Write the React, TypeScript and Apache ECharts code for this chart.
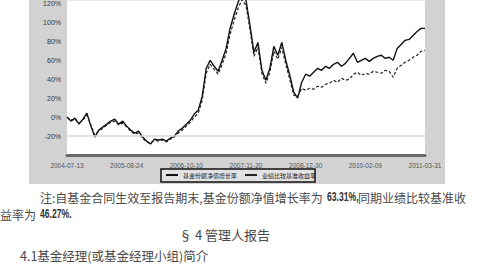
import React, { useEffect, useRef } from "react";
import * as echarts from "echarts";

// x-axis tick labels (7 evenly spaced ticks across the period)
const tickLabels = ["2004-07-13", "2005-08-24", "2006-10-10", "2007-11-20", "2008-12-30", "2010-02-09", "2011-03-31"];

// y-axis tick values (%)
const yTicks = [-20, 0, 20, 40, 60, 80, 100, 120];

// 基金份额净值增长率 (%)
const fundValues = [
  0, -4.2, -1.1, -7.4, -2.1, 4.2, -9.5, -21.1, -13.7, -10.5,
  -7.4, -4.2, -2.1, -7.4, -4.2, -9.5, -13.7, -16.8, -14.7, -21.1,
  -25.3, -28.4, -23.2, -24.2, -23.2, -25.3, -22.1, -20.0, -14.7, -11.6,
  -7.4, -3.2, 3.2, 7.4, 22.1, 51.6, 60.0, 53.7, 48.4, 60.0,
  72.6, 93.7, 108.4, 121.1, 131.6, 123.2, 96.8, 68.4, 78.9, 49.5,
  38.9, 51.6, 74.7, 65.3, 78.9, 60.0, 44.2, 26.3, 20.0, 36.8,
  45.3, 43.2, 47.4, 51.6, 49.5, 53.7, 51.6, 55.8, 57.9, 53.7,
  56.8, 62.1, 67.4, 57.9, 60.0, 62.1, 58.9, 62.1, 64.2, 65.3,
  62.1, 63.2, 60.0, 72.6, 76.8, 81.1, 82.1, 86.3, 90.5, 93.7,
  93.7,
];

// 业绩比较基准收益率 (%)
const benchValues = [
  0, -3.2, -2.1, -6.3, -3.2, 2.1, -8.4, -18.9, -14.7, -11.6,
  -8.4, -5.3, -4.2, -8.4, -6.3, -10.5, -14.7, -17.9, -16.8, -22.1,
  -26.3, -27.4, -24.2, -25.3, -24.2, -26.3, -23.2, -21.1, -16.8, -13.7,
  -9.5, -5.3, 0, 4.2, 17.9, 46.3, 55.8, 50.5, 45.3, 55.8,
  67.4, 87.4, 102.1, 114.7, 124.2, 117.9, 92.6, 64.2, 73.7, 46.3,
  35.8, 47.4, 69.5, 61.1, 73.7, 55.8, 40.0, 23.2, 22.1, 30.5,
  28.4, 30.5, 29.5, 32.6, 31.6, 34.7, 35.8, 38.9, 36.8, 41.1,
  38.9, 40.0, 45.3, 47.4, 44.2, 46.3, 45.3, 48.4, 47.4, 46.3,
  49.5, 48.4, 42.1, 51.6, 54.7, 57.9, 60.0, 63.2, 65.3, 69.5,
  70.5,
];

const seriesNames = ["基金份额净值增长率", "业绩比较基准收益率"];

const noteLine1a = "注:自基金合同生效至报告期末,基金份额净值增长率为";
const noteNum1 = "63.31%,";
const noteLine1b = "同期业绩比较基准收";
const noteLine2a = "益率为";
const noteNum2 = "46.27%.";
const sectionTitle = "§ 4 管理人报告";
const subTitle = "4.1基金经理(或基金经理小组)简介";

export default function App() {
  const ref = useRef<HTMLDivElement>(null);

  useEffect(() => {
    if (!ref.current) return;
    const chart = echarts.init(ref.current, null, { renderer: "svg" });
    const n = fundValues.length - 1;
    const step = n / (tickLabels.length - 1);
    const cjk = "'Noto Sans CJK SC', sans-serif";
    const numFont = "'Liberation Sans', Arial, sans-serif";
    const textColor = "#4a4a4a";

    chart.setOption({
      animation: false,
      backgroundColor: "#ffffff",
      grid: {
        left: 67,
        right: 59,
        top: 0,
        bottom: 116,
        show: true,
        backgroundColor: "#ffffff",
        borderWidth: 0,
      },
      xAxis: {
        type: "value",
        min: 0,
        max: n,
        interval: step,
        axisLine: { show: true, onZero: false, lineStyle: { color: "#6a6a6a", width: 3 } },
        axisTick: { show: false },
        splitLine: { show: false },
        axisLabel: {
          fontSize: 6.5,
          color: "#555",
          margin: 7,
          fontFamily: "'Liberation Sans', sans-serif",
          formatter: (v: number) => {
            const k = Math.round(v / step);
            return tickLabels[k] ?? "";
          },
        },
      },
      yAxis: {
        type: "value",
        min: -40,
        max: 123.2,
        interval: 20,
        axisLine: { show: false },
        axisTick: { show: false },
        splitLine: { show: false },
        axisLabel: {
          fontSize: 7,
          color: "#333",
          margin: 6,
          showMinLabel: false,
          showMaxLabel: false,
          fontFamily: "'Liberation Sans', sans-serif",
          formatter: (v: number) => (yTicks.includes(v) ? v + "%" : ""),
        },
      },
      legend: {
        left: 166,
        top: 172,
        icon: "rect",
        itemWidth: 12,
        itemHeight: 2,
        itemGap: 8,
        padding: 0,
        textStyle: { fontSize: 6, color: "#222", fontFamily: cjk },
        data: seriesNames,
      },
      graphic: [
        {
          type: "rect",
          z: -10,
          shape: { x: 29, y: 0, width: 416, height: 184 },
          style: { fill: "#d2d2d2" },
        },
        {
          type: "rect",
          z: 1,
          shape: { x: 161, y: 169, width: 154, height: 13 },
          style: { fill: "#e2e2e2", stroke: "#111", lineWidth: 1.5 },
        },
        {
          type: "text",
          x: 40,
          y: 197,
          style: { text: noteLine1a, fontSize: 12, fill: textColor, fontFamily: cjk, verticalAlign: "middle" },
        },
        {
          type: "text",
          x: 327,
          y: 197,
          scaleX: 0.72,
          style: { text: noteNum1, fontSize: 12, fontWeight: "bold", fill: "#333", fontFamily: numFont, verticalAlign: "middle" },
        },
        {
          type: "text",
          x: 358,
          y: 197,
          style: { text: noteLine1b, fontSize: 12, fill: textColor, fontFamily: cjk, verticalAlign: "middle" },
        },
        {
          type: "text",
          x: 0,
          y: 214,
          style: { text: noteLine2a, fontSize: 12, fill: textColor, fontFamily: cjk, verticalAlign: "middle" },
        },
        {
          type: "text",
          x: 40,
          y: 214,
          scaleX: 0.72,
          style: { text: noteNum2, fontSize: 12, fontWeight: "bold", fill: "#333", fontFamily: numFont, verticalAlign: "middle" },
        },
        {
          type: "text",
          x: 179,
          y: 234,
          style: { text: sectionTitle, fontSize: 13, fill: textColor, fontFamily: cjk, verticalAlign: "middle" },
        },
        {
          type: "text",
          x: 20,
          y: 255,
          style: { text: subTitle, fontSize: 12.5, fill: textColor, fontFamily: cjk, verticalAlign: "middle" },
        },
      ],
      series: [
        {
          name: seriesNames[0],
          type: "line",
          symbol: "none",
          clip: true,
          data: fundValues.map((v, i) => [i, v]),
          lineStyle: { color: "#111", width: 1.4 },
          itemStyle: { color: "#111" },
          markLine: {
            silent: true,
            symbol: "none",
            label: { show: false },
            lineStyle: { color: "#d8d8d8", width: 1.5, type: "solid" },
            data: [{ yAxis: -20 }],
          },
          z: 3,
        },
        {
          name: seriesNames[1],
          type: "line",
          symbol: "none",
          clip: true,
          data: benchValues.map((v, i) => [i, v]),
          lineStyle: { color: "#222", width: 1.2, type: [3, 2] },
          itemStyle: { color: "#222" },
          z: 3,
        },
      ],
    });
    return () => chart.dispose();
  }, []);

  return (
    <div
      ref={ref}
      style={{ position: "fixed", left: 0, top: 0, width: 484, height: 271, background: "#fff" }}
    />
  );
}
